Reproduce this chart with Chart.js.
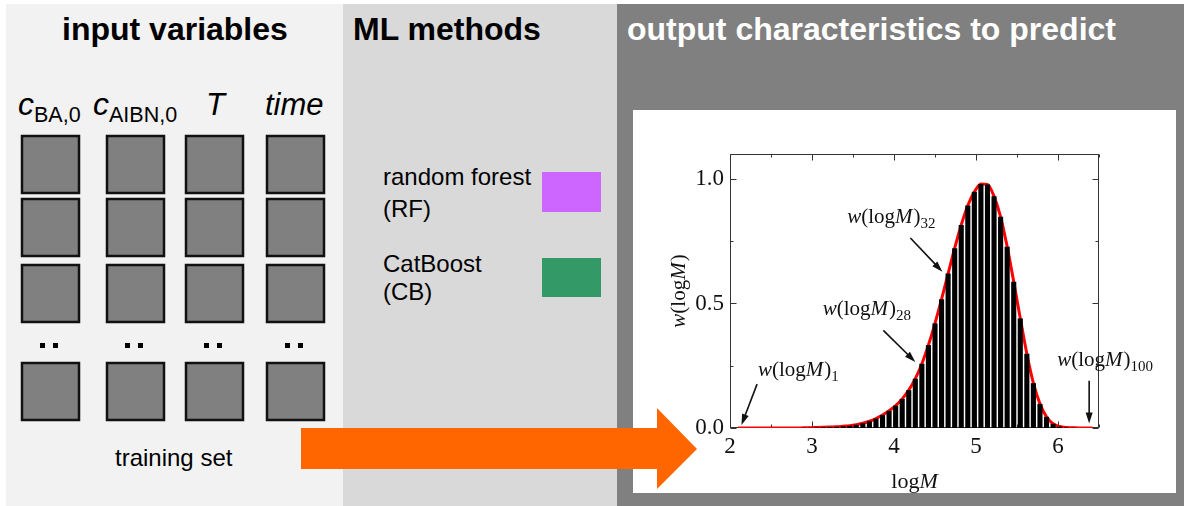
<!DOCTYPE html>
<html lang="en">
<head>
  <meta charset="UTF-8" />
  <title>ML workflow: molar mass distribution</title>
  <style>
    html, body {
      margin: 0;
      padding: 0;
      background: #fff;
    }

    #stage {
      position: relative;
      width: 1184px;
      height: 506px;
      overflow: hidden;
      font-family: "Liberation Sans", Arial, sans-serif;
    }

    #stage svg {
      position: absolute;
      left: 0;
      top: 0;
    }

    #plot {
      position: absolute;
      left: 633px;
      top: 110px;
      width: 543px;
      height: 383px;
    }

    #bigArrow {
      pointer-events: none;
    }
  </style>
</head>
<body>

<div id="stage">
  <svg id="scheme" width="1184" height="506" font-family="Liberation Sans, Arial, sans-serif">
    <!-- three panels -->
    <rect x="6" y="4" width="337" height="502" fill="#f2f2f2" />
    <rect x="343" y="4" width="274" height="502" fill="#d9d9d9" />
    <rect x="617" y="4" width="567" height="502" fill="#808080" />
    <rect x="633" y="110" width="543" height="383" fill="#fff" />

    <text x="62" y="40" font-size="32" font-weight="bold" fill="#000">input variables</text>
    <text x="353" y="40" font-size="32" font-weight="bold" fill="#000">ML methods</text>
    <text x="627" y="40" font-size="32" font-weight="bold" fill="#fff">output characteristics to predict</text>

    <!-- column headers -->
    <text x="18" y="115" font-size="32" font-style="italic">c</text>
    <text x="34" y="122" font-size="21.5">BA,0</text>
    <text x="93" y="115" font-size="32" font-style="italic">c</text>
    <text x="109" y="122" font-size="21.5">AIBN,0</text>
    <text x="206" y="115" font-size="31" font-style="italic">T</text>
    <text x="265" y="115" font-size="31" font-style="italic">time</text>

    <g id="cells"></g>

    <text x="115" y="466" font-size="24">training set</text>

    <!-- methods -->
    <text x="383" y="185" font-size="24">random forest</text>
    <text x="383" y="217" font-size="24">(RF)</text>
    <rect x="542" y="172" width="59" height="40" fill="#cc66ff" />
    <text x="383" y="272" font-size="24">CatBoost</text>
    <text x="383" y="300" font-size="24">(CB)</text>
    <rect x="542" y="258" width="59" height="39" fill="#339966" />
  </svg>

  <div id="plot"><canvas id="mwd" width="543" height="383"></canvas></div>

  <svg id="bigArrow" width="1184" height="506">
    <polygon points="301,428 657,428 657,408 697,449 657,489 657,469 301,469" fill="#ff6600" />
  </svg>
</div>

<script src="https://cdn.jsdelivr.net/npm/chart.js"></script>

<script>
  // bin centres (log M) and normalised weight fractions w(log M)
  const logM = [2.10, 2.18, 2.26, 2.34, 2.42, 2.50, 2.58, 2.66, 2.74, 2.82,
                2.90, 2.98, 3.06, 3.14, 3.22, 3.30, 3.38, 3.46, 3.54, 3.62,
                3.70, 3.78, 3.86, 3.94, 4.02, 4.10, 4.18, 4.26, 4.34, 4.42,
                4.50, 4.58, 4.66, 4.74, 4.82, 4.90, 4.98, 5.06, 5.14, 5.22,
                5.30, 5.38, 5.46, 5.54, 5.62, 5.70, 5.78, 5.86, 5.94, 6.02,
                6.10, 6.18, 6.26, 6.34, 6.42];
  const wLogM = [0, 0, 0, 0, 0, 0, 0, 0, 0, 0,
                 0.001, 0.001, 0.002, 0.003, 0.004, 0.005, 0.007, 0.009, 0.013, 0.019,
                 0.027, 0.038, 0.052, 0.069, 0.090, 0.117, 0.152, 0.198, 0.258, 0.333,
                 0.420, 0.517, 0.620, 0.722, 0.815, 0.893, 0.948, 0.980, 0.978, 0.930,
                 0.848, 0.728, 0.587, 0.440, 0.298, 0.180, 0.097, 0.045, 0.017, 0.006,
                 0.002, 0.001, 0, 0, 0];

  const xTicks = [2, 3, 4, 5, 6];
  const xMinor = [2.5, 3.5, 4.5, 5.5, 6.5];
  const yTicks = [0, 0.5, 1.0];
  const yMinor = [0.25, 0.75];

  // arrows to single bins: label position, arrow tail, arrow tip (data coords)
  const notes = [
    { sub: '1',   at: [2.34, 0.207], from: [2.33, 0.176], to: [2.14, 0.012] },
    { sub: '28',  at: [3.13, 0.455], from: [3.87, 0.392], to: [4.26, 0.265] },
    { sub: '32',  at: [3.43, 0.823], from: [4.20, 0.763], to: [4.59, 0.627] },
    { sub: '100', at: [5.99, 0.25],  from: [6.38, 0.19],  to: [6.38, 0.018] }
  ];

  // grid of training-set cells
  const colX = [21, 106, 185, 266];
  const rowY = [135, 198, 264, 362];
  const cells = document.getElementById('cells');
  let svgCells = '';
  colX.forEach(cx => {
    rowY.forEach(ry => {
      svgCells += `<rect x="${cx + 1}" y="${ry + 1}" width="57" height="57" fill="#808080" stroke="#111" stroke-width="2.5"/>`;
    });
    svgCells += `<rect x="${cx + 19}" y="343" width="5" height="5" fill="#000"/>`;
    svgCells += `<rect x="${cx + 32}" y="343" width="5" height="5" fill="#000"/>`;
  });
  cells.innerHTML = svgCells;

  const serif = '"Liberation Serif", "Times New Roman", serif';

  // w(logM) with italic w and M, optional subscript
  function drawWLabel(ctx, x0, y0, sub, measureOnly) {
    const parts = [['w', 'italic '], ['(log', ''], ['M', 'italic '], [')', '']];
    let cx = x0;
    parts.forEach(([t, st]) => {
      ctx.font = st + '21px ' + serif;
      if (!measureOnly) ctx.fillText(t, cx, y0);
      cx += ctx.measureText(t).width + (t === 'M' ? 1 : 0);
    });
    if (sub) {
      ctx.font = '15px ' + serif;
      if (!measureOnly) ctx.fillText(sub, cx, y0 + 5);
      cx += ctx.measureText(sub).width;
    }
    return cx - x0;
  }

  function arrow(ctx, x1, y1, x2, y2) {
    const ang = Math.atan2(y2 - y1, x2 - x1);
    const head = 11;
    ctx.beginPath();
    ctx.moveTo(x1, y1);
    ctx.lineTo(x2 - Math.cos(ang) * head * 0.8, y2 - Math.sin(ang) * head * 0.8);
    ctx.lineWidth = 1.6;
    ctx.stroke();
    ctx.beginPath();
    ctx.moveTo(x2, y2);
    ctx.lineTo(x2 - head * Math.cos(ang) + 3.5 * Math.sin(ang), y2 - head * Math.sin(ang) - 3.5 * Math.cos(ang));
    ctx.lineTo(x2 - head * Math.cos(ang) - 3.5 * Math.sin(ang), y2 - head * Math.sin(ang) + 3.5 * Math.cos(ang));
    ctx.closePath();
    ctx.fill();
  }

  const frameAndNotes = {
    id: 'frameAndNotes',
    beforeDatasetsDraw(chart) {
      const { ctx, chartArea: a, scales: { x, y } } = chart;
      const L = Math.round(a.left) + 0.5, R = Math.round(a.right) - 0.5;
      const T = Math.round(a.top) + 0.5, B = Math.round(a.bottom) - 0.5;
      ctx.save();
      ctx.strokeStyle = '#333';
      ctx.lineWidth = 1;
      ctx.strokeRect(L, T, R - L, B - T);
      const seg = (x1, y1, x2, y2) => { ctx.beginPath(); ctx.moveTo(x1, y1); ctx.lineTo(x2, y2); ctx.stroke(); };
      xTicks.concat(xMinor).forEach(v => {
        const len = xTicks.includes(v) ? 6 : 3;
        const px = Math.round(x.getPixelForValue(v)) + 0.5;
        seg(px, B, px, B - len);
        seg(px, T, px, T + len);
      });
      yTicks.concat(yMinor).forEach(v => {
        const len = yTicks.includes(v) ? 6 : 3;
        const py = Math.round(y.getPixelForValue(v)) + 0.5;
        seg(L, py, L + len, py);
        seg(R, py, R - len, py);
      });
      ctx.restore();
    },
    afterDatasetsDraw(chart) {
      const { ctx, chartArea: a, scales: { x, y } } = chart;
      ctx.save();
      ctx.fillStyle = '#111';
      ctx.strokeStyle = '#111';
      ctx.textBaseline = 'alphabetic';
      ctx.textAlign = 'left';
      notes.forEach(n => {
        drawWLabel(ctx, x.getPixelForValue(n.at[0]), y.getPixelForValue(n.at[1]), n.sub);
        arrow(ctx, x.getPixelForValue(n.from[0]), y.getPixelForValue(n.from[1]),
                   x.getPixelForValue(n.to[0]), y.getPixelForValue(n.to[1]));
      });

      // x axis title: log M
      const cx = (a.left + a.right) / 2;
      ctx.font = '22px ' + serif;
      const wLog = ctx.measureText('log').width;
      ctx.font = 'italic 22px ' + serif;
      const wM = ctx.measureText('M').width;
      const tx = cx - (wLog + wM) / 2;
      ctx.font = '22px ' + serif;
      ctx.fillText('log', tx, a.bottom + 60);
      ctx.font = 'italic 22px ' + serif;
      ctx.fillText('M', tx + wLog, a.bottom + 60);

      // y axis title: w(log M)
      const wid = drawWLabel(ctx, 0, 0, '', true);
      ctx.translate(a.left - 45, (a.top + a.bottom) / 2);
      ctx.rotate(-Math.PI / 2);
      drawWLabel(ctx, -wid / 2, 0, '');
      ctx.restore();
    }
  };

  const points = logM.map((m, i) => ({ x: m, y: wLogM[i] }));
  const tickFont = { family: serif, size: 23 };

  new Chart(document.getElementById('mwd'), {
    type: 'bar',
    data: {
      datasets: [
        {
          type: 'bar',
          data: points,
          backgroundColor: '#000',
          borderWidth: 0,
          barPercentage: 0.78,
          categoryPercentage: 1,
          order: 0
        },
        {
          type: 'line',
          data: points,
          borderColor: '#ff0000',
          borderWidth: 3,
          pointRadius: 0,
          cubicInterpolationMode: 'monotone',
          order: 1
        }
      ]
    },
    options: {
      responsive: false,
      animation: false,
      devicePixelRatio: 1,
      events: [],
      layout: { padding: { left: 0, top: 44, right: 77, bottom: 0 } },
      plugins: {
        legend: { display: false },
        tooltip: { enabled: false }
      },
      scales: {
        x: {
          type: 'linear',
          min: 2,
          max: 6.5,
          offset: false,
          grid: { display: false, drawTicks: false, offset: false },
          border: { display: false },
          ticks: { color: '#111', font: tickFont, padding: 5, maxRotation: 0 },
          afterBuildTicks: s => { s.ticks = xTicks.map(v => ({ value: v })); },
          afterFit: s => { s.height = 65; }
        },
        y: {
          min: 0,
          max: 1.1,
          grid: { display: false, drawTicks: false },
          border: { display: false },
          ticks: { color: '#111', font: tickFont, padding: 6, callback: v => v.toFixed(1) },
          afterBuildTicks: s => { s.ticks = yTicks.map(v => ({ value: v })); },
          afterFit: s => { s.width = 97; }
        }
      }
    },
    plugins: [frameAndNotes]
  });
</script>

</body>
</html>
